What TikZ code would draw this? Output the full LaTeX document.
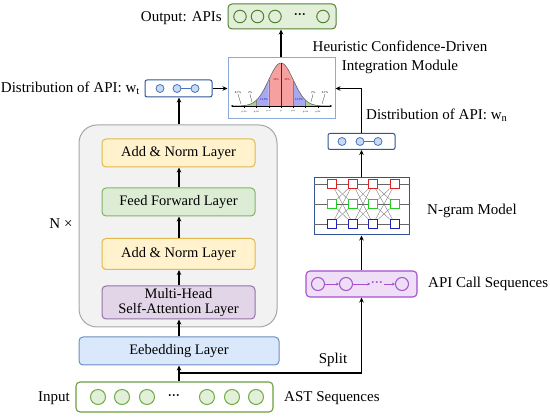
\documentclass[tikz,border=0pt]{standalone}
\usepackage{fontspec}
\setmainfont{Liberation Serif}
\usetikzlibrary{arrows.meta,calc}
\definecolor{grayfill}{HTML}{F2F2F2}
\definecolor{graydraw}{HTML}{A6A6A6}
\definecolor{yfill}{HTML}{FFF2CC}
\definecolor{ydraw}{HTML}{E2B84E}
\definecolor{gfill}{HTML}{DDEDD5}
\definecolor{gdraw}{HTML}{82B366}
\definecolor{pfill}{HTML}{E1D5E7}
\definecolor{pdraw}{HTML}{9673A6}
\definecolor{bfill}{HTML}{DAE8FC}
\definecolor{bdraw}{HTML}{6C8EBF}
\definecolor{ingreen}{HTML}{6A9F3F}
\definecolor{cfill}{HTML}{E2F0D9}
\definecolor{cdraw}{HTML}{70AD47}
\definecolor{outdraw}{HTML}{548235}
\definecolor{dblue}{HTML}{2F5597}
\definecolor{lblue}{HTML}{C9DAF0}
\definecolor{mblue}{HTML}{4472C4}
\definecolor{chartdraw}{HTML}{8EA9DB}
\definecolor{apifill}{HTML}{EEDFF7}
\definecolor{apidraw}{HTML}{A64FD0}
\definecolor{rfill}{HTML}{F6A0A0}
\definecolor{blfill}{HTML}{A8A8F0}
\definecolor{grfill}{HTML}{A9D18E}
\definecolor{nred}{HTML}{E02020}
\definecolor{ngreen}{HTML}{22CC22}
\definecolor{nblue}{HTML}{2020B8}
\begin{document}
\begin{tikzpicture}[x=1pt,y=-1pt,
  lay/.style={draw, rounded corners=4pt, line width=1pt, minimum width=153pt,
    align=center, font=\fontsize{14.5}{16}\selectfont, inner sep=0pt},
  txt/.style={font=\fontsize{15}{18}\selectfont, inner sep=0pt},
  arr/.style={-{Stealth[length=5pt,width=4.5pt]}, line width=1.1pt},
  plain/.style={line width=1.1pt},
  icirc/.style={circle, draw=cdraw, fill=cfill, line width=1pt, minimum size=15pt, inner sep=0pt},
  ocirc/.style={circle, draw=outdraw, fill=cfill, line width=1pt, minimum size=12.5pt, inner sep=0pt},
  wcirc/.style={circle, draw=mblue, fill=lblue, line width=0.8pt, minimum size=8pt, inner sep=0pt},
  acirc/.style={circle, draw=apidraw, fill=apifill, line width=1pt, minimum size=13pt, inner sep=0pt},
  sq/.style={draw, fill=white, line width=1.2pt, minimum size=9pt, inner sep=0pt},
  tiny/.style={font=\fontsize{3}{3.5}\selectfont, inner sep=0pt},
  tinier/.style={font=\fontsize{2.4}{2.8}\selectfont, inner sep=0pt}
]
\useasboundingbox (0,0) rectangle (550,419);

% ---------- Output ----------
\node[draw=outdraw, fill=cfill, rounded corners=4pt, line width=1pt, minimum width=108pt, minimum height=25pt] (out) at (282,16.5) {};
\node[ocirc] (o1) at (240,16.5) {};
\node[ocirc] (o2) at (257.5,16.5) {};
\node[ocirc] (o3) at (275,16.5) {};
\node[inner sep=0pt, font=\fontsize{12}{12}\selectfont\bfseries] (od) at (300,16) {···};
\node[ocirc] (o4) at (323,16.5) {};
\node[txt, anchor=east] (lout) at (222,18) {Output: APIs};

% ---------- Chart ----------
\node[draw=chartdraw, fill=white, line width=1pt, minimum width=107pt, minimum height=61pt, inner sep=0pt] (chart) at (281.5,88.5) {};
\fill[rfill] (268.7,106) -- plot[domain=268.7:293.3, samples=40] (\x,{106-43*exp(-((\x-281)/12.3)^2/2)}) -- (293.3,106) -- cycle;
\fill[blfill] (256.4,106) -- plot[domain=256.4:268.7, samples=20] (\x,{106-43*exp(-((\x-281)/12.3)^2/2)}) -- (268.7,106) -- cycle;
\fill[blfill] (293.3,106) -- plot[domain=293.3:305.6, samples=20] (\x,{106-43*exp(-((\x-281)/12.3)^2/2)}) -- (305.6,106) -- cycle;
\fill[grfill] (244.1,106) -- plot[domain=244.1:256.4, samples=20] (\x,{106-43*exp(-((\x-281)/12.3)^2/2)}) -- (256.4,106) -- cycle;
\fill[grfill] (305.6,106) -- plot[domain=305.6:317.9, samples=20] (\x,{106-43*exp(-((\x-281)/12.3)^2/2)}) -- (317.9,106) -- cycle;
\draw[line width=0.5pt, gray!70!black] plot[domain=232:330, samples=80] (\x,{106-43*exp(-((\x-281)/12.3)^2/2)});
\foreach \t in {256.4,268.7,293.3,305.6} {\draw[line width=0.3pt, gray] (\t,106) -- (\t,{106-43*exp(-((\t-281)/12.3)^2/2)});}
\draw[line width=0.4pt, red!60!black] (281,106) -- (281,63);
\draw[{Stealth[length=2pt,width=2pt]}-{Stealth[length=2pt,width=2pt]}, line width=0.5pt] (231,106) -- (332,106);
\foreach \t in {244.1,256.4,268.7,281,293.3,305.6,317.9} {\draw[line width=0.3pt] (\t,106) -- (\t,108);}
\node[tiny, red!60!black] (p1) at (276,80) {34\%};
\node[tiny, red!60!black] (p2) at (287,80) {34\%};
\node[tiny, blue!60!black] (p3) at (264,100) {13.5\%};
\node[tiny, blue!60!black] (p4) at (299,100) {13.5\%};
\node[tiny] (p5) at (250,93) {2\%};
\node[tiny] (p6) at (313,93) {2\%};
\node[tiny] (p7) at (238,93) {0.1\%};
\node[tiny] (p8) at (325,93) {0.1\%};
\draw[line width=0.2pt] (p5.south) -- (252,102);
\draw[line width=0.2pt] (p6.south) -- (311,102);
\draw[line width=0.2pt] (p7.south) -- (241,104);
\draw[line width=0.2pt] (p8.south) -- (322,104);
\node[tinier] (t1) at (244.1,111.5) {μ−3σ};
\node[tinier] (t2) at (256.4,111.5) {μ−2σ};
\node[tinier] (t3) at (268.7,111.5) {μ−σ};
\node[tinier] (t4) at (281,111.5) {μ};
\node[tinier] (t5) at (293.3,111.5) {μ+σ};
\node[tinier] (t6) at (305.6,111.5) {μ+2σ};
\node[tinier] (t7) at (317.9,111.5) {μ+3σ};

\node[txt, align=center, font=\fontsize{15}{19}\selectfont] (lheu) at (400,57) {Heuristic Confidence-Driven\\Integration Module};

% ---------- w_t ----------
\node[draw=dblue, fill=white, rounded corners=2pt, line width=1pt, minimum width=67pt, minimum height=17pt] (wt) at (178.5,88.5) {};
\node[wcirc] (wt1) at (160,88.5) {};
\node[wcirc] (wt2) at (177,88.5) {};
\node[wcirc] (wt3) at (195,88.5) {};
\draw[line width=0.5pt, mblue] (wt2) -- (wt3);
\node[txt, anchor=east] (lwt) at (140,88) {Distribution of API: w\textsubscript{t}};

% ---------- Transformer ----------
\node[draw=graydraw, fill=grayfill, rounded corners=18pt, line width=1pt, minimum width=198pt, minimum height=202pt] (gray) at (178,226) {};
\node[lay, draw=ydraw, fill=yfill, minimum height=28pt] (an1) at (178.5,153) {Add \& Norm Layer};
\node[lay, draw=gdraw, fill=gfill, minimum height=28pt] (ff) at (178.5,202) {Feed Forward Layer};
\node[lay, draw=ydraw, fill=yfill, minimum height=31pt] (an2) at (178.5,254) {Add \& Norm Layer};
\node[lay, draw=pdraw, fill=pfill, minimum height=33pt, font=\fontsize{14.5}{15.5}\selectfont] (mha) at (178.5,302.5) {Multi-Head\\Self-Attention Layer};
\node[txt] (nx) at (61,224) {N ×};

% ---------- Embedding and input ----------
\node[lay, draw=bdraw, fill=bfill, minimum width=200pt, minimum height=28pt] (emb) at (179,351) {Eebedding Layer};
\node[draw=ingreen, fill=white, rounded corners=4pt, line width=1.1pt, minimum width=197pt, minimum height=30pt] (in) at (174.5,397) {};
\foreach \xx/\nm in {98/i1,122/i2,147/i3,207/i4,232/i5,256/i6} {\node[icirc] (\nm) at (\xx,397) {};}
\node[inner sep=0pt, font=\fontsize{12}{12}\selectfont\bfseries] (idots) at (174,397) {···};
\node[txt, anchor=east] (lin) at (70,398) {Input};
\node[txt, anchor=west] (last) at (284,398) {AST Sequences};

% ---------- Right branch ----------
\node[draw=apidraw, fill=apifill, rounded corners=4pt, line width=1.1pt, minimum width=111pt, minimum height=26pt] (api) at (361.5,284) {};
\node[acirc] (a1) at (318,284) {};
\node[acirc] (a2) at (346,284) {};
\node[inner sep=0.5pt, text=apidraw, font=\fontsize{12}{12}\selectfont\bfseries] (adots) at (377,284) {···};
\node[acirc] (a3) at (402,284) {};
\draw[-{Stealth[length=3pt,width=3pt]}, line width=0.9pt, apidraw] (a1) -- (a2);
\draw[-{Stealth[length=3pt,width=3pt]}, line width=0.9pt, apidraw] (a2) -- (adots);
\draw[-{Stealth[length=3pt,width=3pt]}, line width=0.9pt, apidraw] (adots) -- (a3);
\node[txt, anchor=west] (lapi) at (428,284) {API Call Sequences};

\node[draw=dblue, fill=white, line width=1pt, minimum width=95pt, minimum height=57pt, inner sep=0pt] (ng) at (361.5,206.5) {};
% n-gram lattice
\foreach \c/\xx in {1/332,2/353,3/373,4/395} {
  \foreach \r/\yy in {1/184,2/204,3/224} {
    \coordinate (g\c\r) at (\xx,\yy);
  }
}
\foreach \c/\d in {1/2,2/3,3/4} {
  \foreach \r in {1,2,3} {
    \foreach \s in {1,2,3} {
      \draw[line width=0.3pt, gray!80!black] (g\c\r) -- (g\d\s);
    }
  }
}
\foreach \r in {1,2,3} {
  \draw[line width=0.3pt, gray!80!black] (g1\r) -- (g1\r -| ng.west);
  \draw[line width=0.3pt, gray!80!black] (g4\r) -- (g4\r -| ng.east);
}
\foreach \c in {1,2,3,4} {
  \node[sq, draw=nred] (s\c1) at (g\c1) {};
  \node[sq, draw=ngreen] (s\c2) at (g\c2) {};
  \node[sq, draw=nblue] (s\c3) at (g\c3) {};
}
\node[txt, anchor=west] (lng) at (427,211) {N-gram Model};

\node[draw=dblue, fill=white, rounded corners=2pt, line width=1pt, minimum width=67pt, minimum height=16pt] (wn) at (361.5,141.5) {};
\node[wcirc] (wn1) at (342,141.5) {};
\node[wcirc] (wn2) at (360,141.5) {};
\node[wcirc] (wn3) at (378,141.5) {};
\draw[line width=0.5pt, mblue] (wn2) -- (wn3);
\node[txt, anchor=west] (lwn) at (366,115) {Distribution of API: w\textsubscript{n}};

% ---------- Connectors ----------
\coordinate (sp) at (179,373);
\draw[plain] (sp |- in.north) -- (sp);
\draw[arr] (sp) -- (sp |- emb.south);
\draw[arr] (sp) -| (api.south);
\node[txt] (lsplit) at (333,360) {Split};
\draw[arr] (emb.north) -- (emb.north |- mha.south);
\draw[arr] (mha.north -| sp) -- (an2.south -| sp);
\draw[arr] (an2.north -| sp) -- (ff.south -| sp);
\draw[arr] (ff.north -| sp) -- (an1.south -| sp);
\draw[arr] (gray.north -| sp) -- (wt.south -| sp);
\draw[arr] (wt.east) -- (chart.west |- wt.east);
\draw[arr] (chart.north -| 281,0) -- (out.south -| 281,0);
\draw[arr] (api.north) -- (ng.south);
\draw[arr] (ng.north) -- (wn.south);
\draw[arr] (wn.north) |- (chart.east);
\end{tikzpicture}
\end{document}
